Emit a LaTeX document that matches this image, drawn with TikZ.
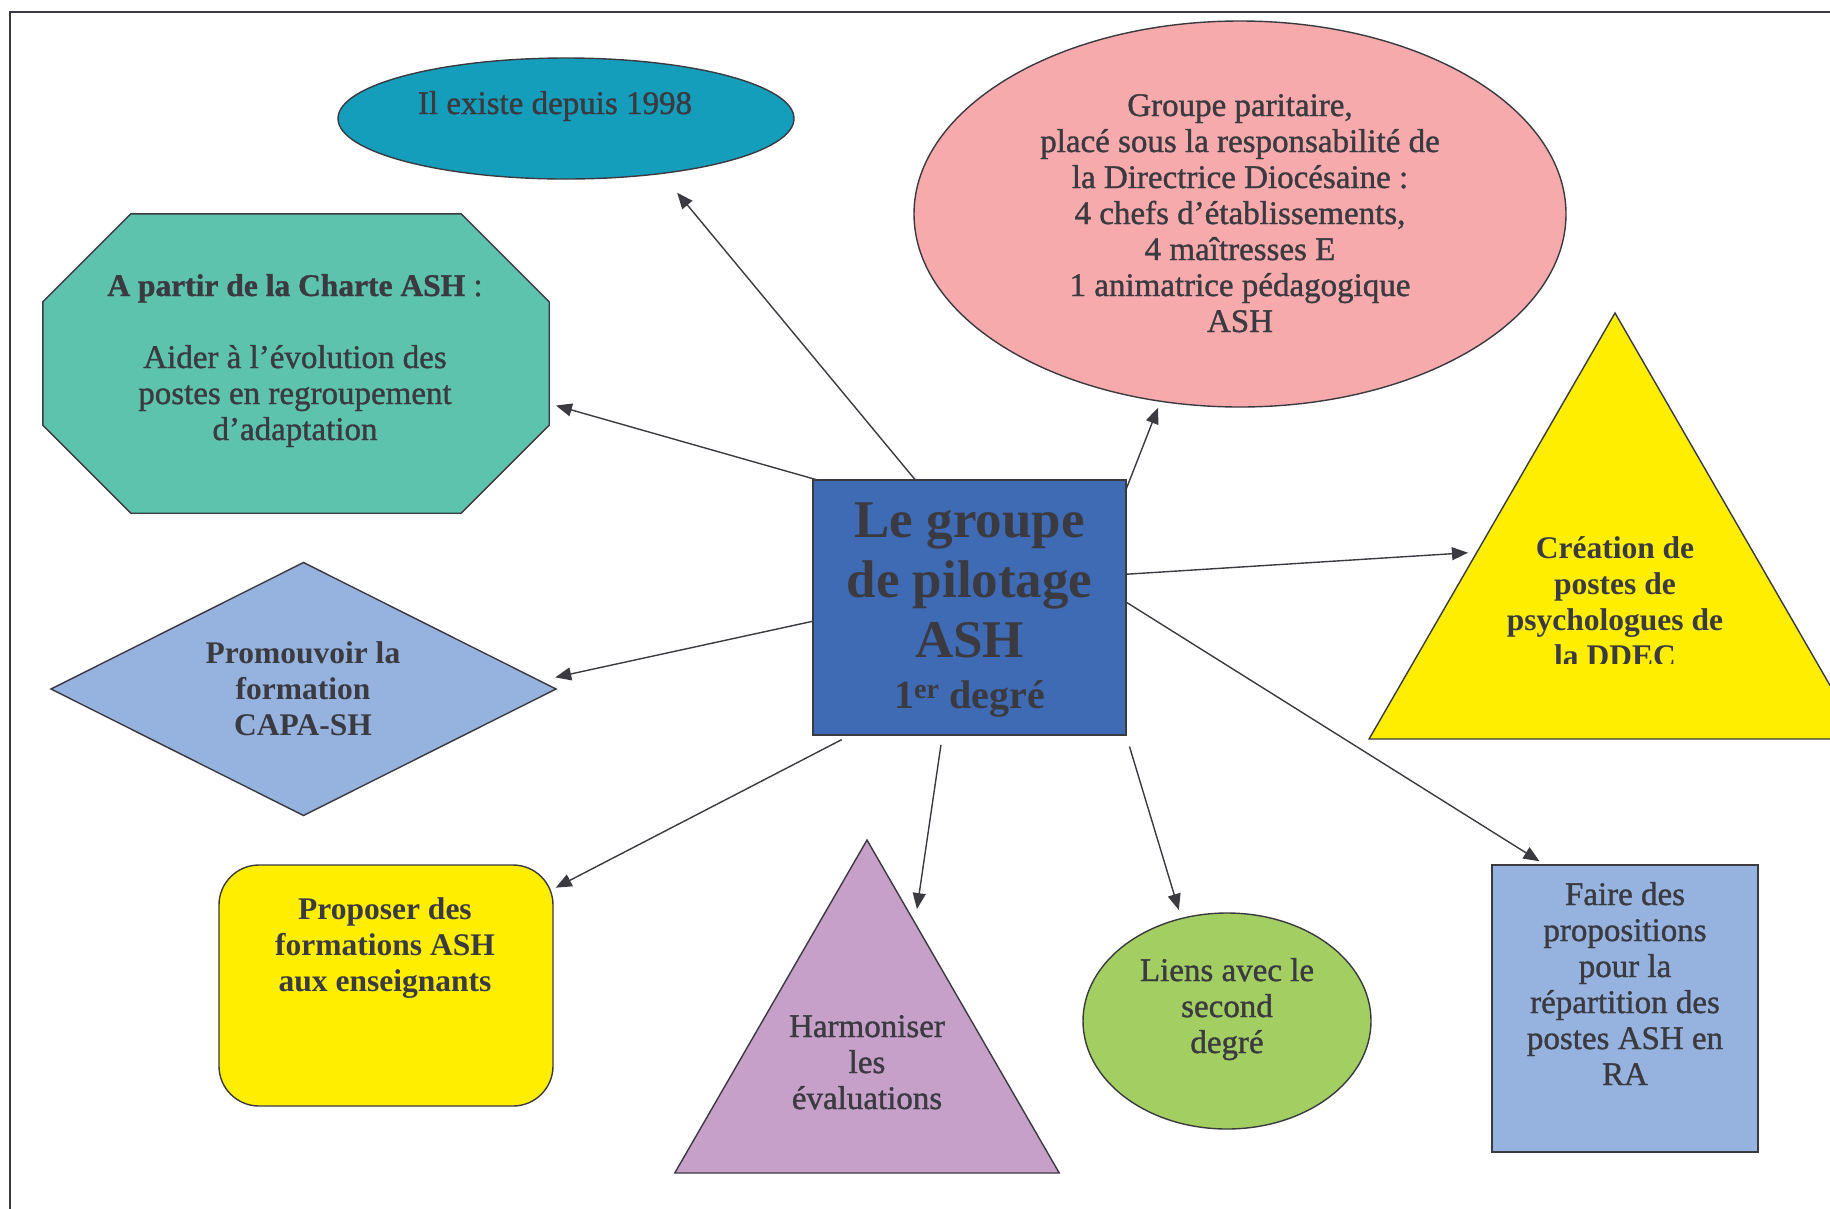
\documentclass[tikz,border=0pt]{standalone}
\usepackage{fontspec}
\setmainfont{Liberation Serif}
\newfontfamily\garfont[FakeBold=1.1]{Liberation Serif}
\usetikzlibrary{arrows.meta,shapes.geometric,calc}

\definecolor{inkgray}{RGB}{58,58,64}
\definecolor{tealfill}{RGB}{21,157,188}
\definecolor{seafill}{RGB}{93,195,173}
\definecolor{bluefill}{RGB}{149,179,222}
\definecolor{yellowfill}{RGB}{255,238,0}
\definecolor{mauvefill}{RGB}{198,160,201}
\definecolor{limefill}{RGB}{162,206,98}
\definecolor{pinkfill}{RGB}{246,170,172}
\definecolor{royalfill}{RGB}{63,106,180}

\newcommand{\gartext}{\garfont\fontsize{33}{36}\selectfont}
\newcommand{\boldtext}{\bfseries\fontsize{31.5}{36}\selectfont}
\newcommand{\bigtext}{\bfseries\fontsize{53}{60}\selectfont}

\begin{document}
\begin{tikzpicture}[x=1pt,y=-1pt,
  every node/.style={align=center, text=inkgray},
  shapebox/.style={draw=inkgray, line width=1.4pt, inner sep=0pt, outer sep=0pt},
  label text/.style={anchor=base, inner sep=0pt},
  arrow/.style={-{Triangle[length=16pt,width=13pt]}, draw=inkgray, line width=1.4pt}
]
\useasboundingbox (0,0) rectangle (1830,1208);

% frame
\draw[draw=inkgray, line width=2.5pt] (1850,12) -- (10,12) -- (10,1230);

% centre (text nodes sit on their last baseline)
\node[shapebox, fill=royalfill, line width=2pt, minimum width=313pt, minimum height=255pt] (ctr) at (969.5,607.5) {};
\node[label text, font=\bigtext] (ctr-t) at (969.5,708)
  {Le groupe\\de pilotage\\ASH\\[-9pt]{\fontsize{40}{46}\selectfont 1\textsuperscript{er} degré}};

% top left ellipse
\node[shapebox, ellipse, fill=tealfill, minimum width=456pt, minimum height=121pt] (existe) at (566,118.5) {};
\node[label text, font=\gartext] (existe-t) at (555,114) {Il existe depuis 1998};

% octagon
\node[inner sep=0pt, minimum width=506pt, minimum height=299pt] (charte) at (296,363.5) {};
\draw[shapebox, fill=seafill] ($(charte.north west)+(88,0)$) -- ($(charte.north east)+(-88,0)$)
  -- ($(charte.north east)+(0,88)$) -- ($(charte.south east)+(0,-88)$)
  -- ($(charte.south east)+(-88,0)$) -- ($(charte.south west)+(88,0)$)
  -- ($(charte.south west)+(0,-88)$) -- ($(charte.north west)+(0,88)$) -- cycle;
\node[label text, font=\gartext] (charte-t) at (295,440)
  {{\boldtext A partir de la Charte ASH} :\\[36pt]Aider à l’évolution des\\postes en regroupement\\d’adaptation};

% diamond
\node[shapebox, diamond, fill=bluefill, minimum width=505pt, minimum height=253pt] (capa) at (303.5,689) {};
\node[label text, font=\boldtext] (capa-t) at (303,735) {Promouvoir la\\formation\\CAPA-SH};

% rounded box
\node[shapebox, rounded corners=40pt, fill=yellowfill, minimum width=334pt, minimum height=241pt] (propo) at (386,985.5) {};
\node[label text, font=\boldtext] (propo-t) at (385,991) {Proposer des\\formations ASH\\aux enseignants};

% purple triangle
\node[shapebox, regular polygon, regular polygon sides=3, fill=mauvefill, minimum size=444pt] (harmo) at (867,1062) {};
\node[label text, font=\gartext] (harmo-t) at (867,1109) {Harmoniser\\les\\évaluations};

% green circle
\node[shapebox, ellipse, fill=limefill, minimum width=288pt, minimum height=216pt] (liens) at (1227,1021) {};
\node[label text, font=\gartext] (liens-t) at (1227,1053) {Liens avec le\\second\\degré};

% blue box
\node[shapebox, fill=bluefill, minimum width=266pt, minimum height=287pt] (faire) at (1625,1008.5) {};
\node[label text, font=\gartext] (faire-t) at (1625,1085)
  {Faire des\\propositions\\pour la\\répartition des\\postes ASH en\\RA};

% pink ellipse
\node[shapebox, ellipse, fill=pinkfill, minimum width=652pt, minimum height=386pt] (parit) at (1240,214) {};
\node[label text, font=\gartext] (parit-t) at (1240,332)
  {Groupe paritaire,\\placé sous la responsabilité de\\la Directrice Diocésaine :\\4 chefs d’établissements,\\4 maîtresses E\\1 animatrice pédagogique\\ASH};

% yellow triangle, text cut at the box bottom
\node[shapebox, regular polygon, regular polygon sides=3, fill=yellowfill, minimum size=568pt] (psy) at (1615,597) {};
\begin{scope}
  \clip (1300,480) rectangle (1830,663);
  \node[label text, font=\boldtext] (psy-t) at (1615,666) {Création de\\postes de\\psychologues de\\la DDEC};
\end{scope}

% arrows
\draw[arrow, shorten >=25pt] (ctr.113) -- (existe.-30);
\draw[arrow, shorten >=7pt] (ctr.140) -- (charte.-9);
\draw[arrow, shorten >=7pt] (ctr.37) -- (parit.247);
\draw[arrow, shorten >=9pt] (ctr.12) -- (psy.162);
\draw[arrow, shorten >=16pt] (ctr.185) -- (capa.2);
\draw[arrow, shorten <=10pt, shorten >=3pt] (ctr.227) -- (propo.30);
\draw[arrow, shorten <=10pt, shorten >=14pt] (ctr.258) -- (harmo.71.5);
\draw[arrow, shorten <=12pt, shorten >=9pt] (ctr.south east) -- (liens.114);
\draw[arrow, shorten >=7pt] (ctr.2) -- (faire.119.4);

\end{tikzpicture}
\end{document}
